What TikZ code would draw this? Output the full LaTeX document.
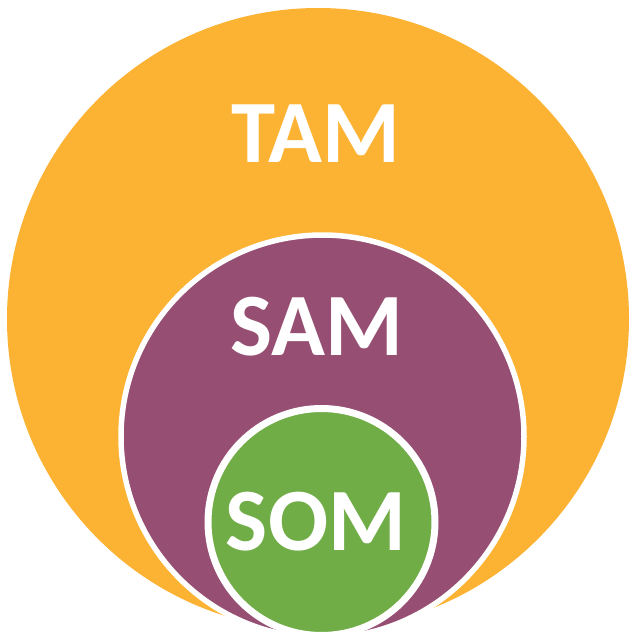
\documentclass[tikz,border=0pt]{standalone}
\usepackage{fontspec}
\setmainfont{Carlito}
\definecolor{tamc}{RGB}{252,178,50}
\definecolor{samc}{RGB}{150,78,114}
\definecolor{somc}{RGB}{112,173,71}
\begin{document}
\begin{tikzpicture}[x=1pt,y=-1pt,
  lbl/.style={text=white,font=\fontsize{89}{89}\selectfont\bfseries,anchor=base,inner sep=0pt}]
\clip (0,0) rectangle (640,640);
\fill[white] (0,0) rectangle (640,640);
\fill[tamc] (318,319) circle[radius=311];
\filldraw[fill=samc,draw=white,line width=5.5] (322.5,436.5) circle[radius=201.5];
\filldraw[fill=somc,draw=white,line width=7] (321.5,522) circle[radius=113.5];
\node[lbl] (tam) at (316,162) {TAM};
\node[lbl] (sam) at (317,355) {SAM};
\node[lbl] (som) at (316,550) {SOM};
\end{tikzpicture}
\end{document}
